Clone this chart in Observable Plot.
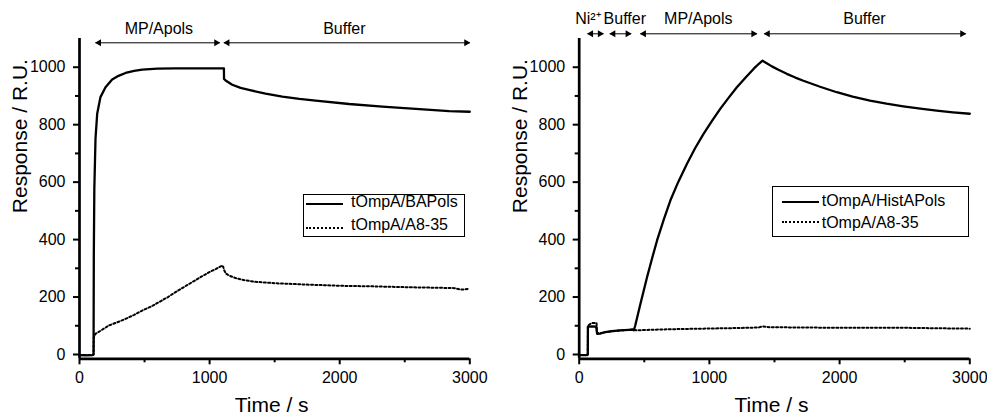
<!DOCTYPE html>
<html><head><meta charset="utf-8">
<script src="https://cdn.jsdelivr.net/npm/d3@7"></script>
<script src="https://cdn.jsdelivr.net/npm/@observablehq/plot@0.6"></script>
<style>
body{margin:0;background:#fff;}
#fig{position:relative;width:987px;height:414px;font-family:"Liberation Sans",Arial,sans-serif;color:#000;background:#fff;}
.panel{position:absolute;top:0;}
.legend{position:absolute;border:1px solid #000;box-sizing:border-box;background:#fff;}
.row{position:absolute;font-size:16px;line-height:16px;white-space:nowrap;}
.sw{position:absolute;height:0;}
</style></head><body><div id="fig"></div><script>
// ---- data (time s, response R.U.) ----
const leftBAPols = [[0,-2],[50,-3],[100,-2],[108,0],[110,345],[114,577],[123,751],[136,838],[161,896],[200,930],[251,957],[300,970],[354,980],[420,987],[482,992],[600,995],[738,996],[900,996],[1100,996],[1110,996],[1111,959],[1123,954],[1174,939],[1238,928],[1302,921],[1430,908],[1559,898],[1690,890],[1815,884],[2072,872],[2328,863],[2584,855],[2841,847],[3000,845]];
const leftA835 = [[0,-2],[50,-2],[100,-2],[108,0],[110,60],[123,72],[170,85],[226,101],[290,112],[354,124],[420,138],[482,153],[550,167],[610,182],[680,200],[738,217],[800,234],[866,252],[930,269],[995,286],[1050,298],[1097,310],[1105,305],[1110,295],[1125,282],[1148,275],[1200,266],[1251,260],[1350,253],[1507,248],[1764,243],[2020,239],[2277,237],[2533,234],[2790,232],[2880,231],[2918,227],[2960,226],[3000,230]];
const rightHistAPols = [[0,-2],[60,-2],[66,0],[67,97],[100,98],[130,97],[138,72],[163,73],[200,78],[250,81],[316,84],[380,86],[410,87],[419,84],[430,100],[470,176],[521,269],[560,335],[598,397],[650,470],[700,536],[760,600],[828,664],[890,718],[955,768],[1020,813],[1083,855],[1150,895],[1211,930],[1280,965],[1339,994],[1380,1012],[1408,1023],[1440,1014],[1480,1003],[1530,991],[1594,977],[1660,964],[1722,953],[1850,932],[1978,913],[2100,898],[2233,884],[2360,873],[2489,864],[2620,856],[2745,849],[2870,843],[3000,838]];
const rightA835 = [[0,-2],[60,-2],[66,0],[67,100],[90,108],[110,110],[133,110],[138,75],[163,74],[200,78],[316,84],[419,86],[444,84],[550,86],[700,88],[955,90],[1200,92],[1380,94],[1408,98],[1440,96],[1466,95],[1700,94],[1978,93],[2489,93],[2800,91],[3000,90]];

// phases: [start, end, label position, label]
const leftPhases = [[123,1078,610,"MP/Apols"],[1110,3000,2036,"Buffer"]];
const rightPhases = [[64,186,67,"Ni²⁺"],[235,399,350,"Buffer"],[470,1365,915,"MP/Apols"],[1421,2969,2191,"Buffer"]];

const xDomain = [0, 3000];
const yDomain = [-15, 1100];
const xMajor = [0, 1000, 2000, 3000];
const xMinor = [500, 1500, 2500];
const yMajor = [0, 200, 400, 600, 800, 1000];
const yMinor = [100, 300, 500, 700, 900];
const xTitle = "Time / s";
const yTitle = "Response / R.U.";
const leftLegend = ["tOmpA/BAPols", "tOmpA/A8-35"];
const rightLegend = ["tOmpA/HistAPols", "tOmpA/A8-35"];

const FONT = '"Liberation Sans", Arial, sans-serif';

function panel(cfg) {
  const ph = cfg.phases.map(([s, e, at, label]) => ({s, e, at, label}));
  return Plot.plot({
    width: 493, height: 414,
    marginLeft: cfg.ml, marginRight: cfg.mr, marginTop: 38, marginBottom: 414 - 358.3,
    x: {domain: xDomain},
    y: {domain: yDomain},
    style: {fontFamily: FONT, fontSize: "16px", color: "black", background: "transparent", overflow: "visible"},
    marks: [
      Plot.axisX({ticks: xMajor, tickSize: 6, tickPadding: 7, tickFormat: d => String(d), label: null, strokeWidth: 2}),
      Plot.axisX({ticks: xMinor, tickSize: 4, tickFormat: () => "", label: null, strokeWidth: 2}),
      Plot.axisY({ticks: yMajor, tickSize: 6, tickPadding: 8, tickFormat: d => String(d), label: null, strokeWidth: 2}),
      Plot.axisY({ticks: yMinor, tickSize: 4, tickFormat: () => "", label: null, strokeWidth: 2}),
      Plot.ruleX([xDomain[0]], {y1: yDomain[0], y2: yDomain[1], strokeWidth: 2.7}),
      Plot.ruleY([yDomain[0]], {x1: xDomain[0], x2: xDomain[1], strokeWidth: 2.7}),
      Plot.line(cfg.dotted, {x: d => d[0], y: d => d[1], strokeWidth: 2, strokeDasharray: "2,2.3"}),
      Plot.line(cfg.solid, {x: d => d[0], y: d => d[1], strokeWidth: 2.3, strokeLinejoin: "round"}),
      Plot.link(ph, {x1: "s", x2: "e", y1: yDomain[1], y2: yDomain[1], dy: cfg.arrowDy, strokeWidth: 1}),
      Plot.dot(ph, {x: "s", y: yDomain[1], dy: cfg.arrowDy, dx: 3.5, symbol: "triangle", rotate: -90, r: 2.6, fill: "black", stroke: null}),
      Plot.dot(ph, {x: "e", y: yDomain[1], dy: cfg.arrowDy, dx: -3.5, symbol: "triangle", rotate: 90, r: 2.6, fill: "black", stroke: null}),
      Plot.text(ph, {x: "at", text: "label", frameAnchor: "top", lineAnchor: "middle", dy: cfg.textDy, fontSize: 16}),
      Plot.text([yTitle], {frameAnchor: "left", lineAnchor: "middle", rotate: -90, dx: cfg.yTitleDx, dy: 14.5, fontSize: 21}),
      Plot.text([xTitle], {frameAnchor: "bottom", lineAnchor: "middle", dy: 46, dx: -3, fontSize: 21})
    ]
  });
}

const fig = document.getElementById("fig");
const p1 = panel({ml: 79, mr: 23.7, solid: leftBAPols, dotted: leftA835, phases: leftPhases, arrowDy: 4.3, textDy: -10, yTitleDx: -59});
const p2 = panel({ml: 84.7, mr: 17.7, solid: rightHistAPols, dotted: rightA835, phases: rightPhases, arrowDy: -4.7, textDy: -19.5, yTitleDx: -58.7});
p1.classList.add("panel"); p1.style.left = "0px";
p2.classList.add("panel"); p2.style.left = "494px";
fig.appendChild(p1); fig.appendChild(p2);

function legend(box, swLeft, swWidth, swTops, textLeft, textTops, labels) {
  const b = document.createElement("div");
  b.className = "legend";
  Object.assign(b.style, {left: box[0] + "px", top: box[1] + "px", width: box[2] + "px", height: box[3] + "px"});
  fig.appendChild(b);
  labels.forEach((lab, i) => {
    const sw = document.createElement("div");
    sw.className = "sw";
    Object.assign(sw.style, {left: swLeft + "px", top: swTops[i] + "px", width: swWidth + "px",
      borderTop: i === 0 ? "2.3px solid #000" : "2px dotted #000"});
    fig.appendChild(sw);
    const t = document.createElement("div");
    t.className = "row";
    t.textContent = lab;
    Object.assign(t.style, {left: textLeft + "px", top: textTops[i] + "px"});
    fig.appendChild(t);
  });
}
legend([303, 194, 162, 43], 306, 37, [203, 226.7], 351, [194, 217.2], leftLegend);
legend([771.7, 185.7, 197.6, 51.6], 781.7, 37.6, [200.7, 221.3], 821.7, [193, 214.6], rightLegend);
</script></body></html>
